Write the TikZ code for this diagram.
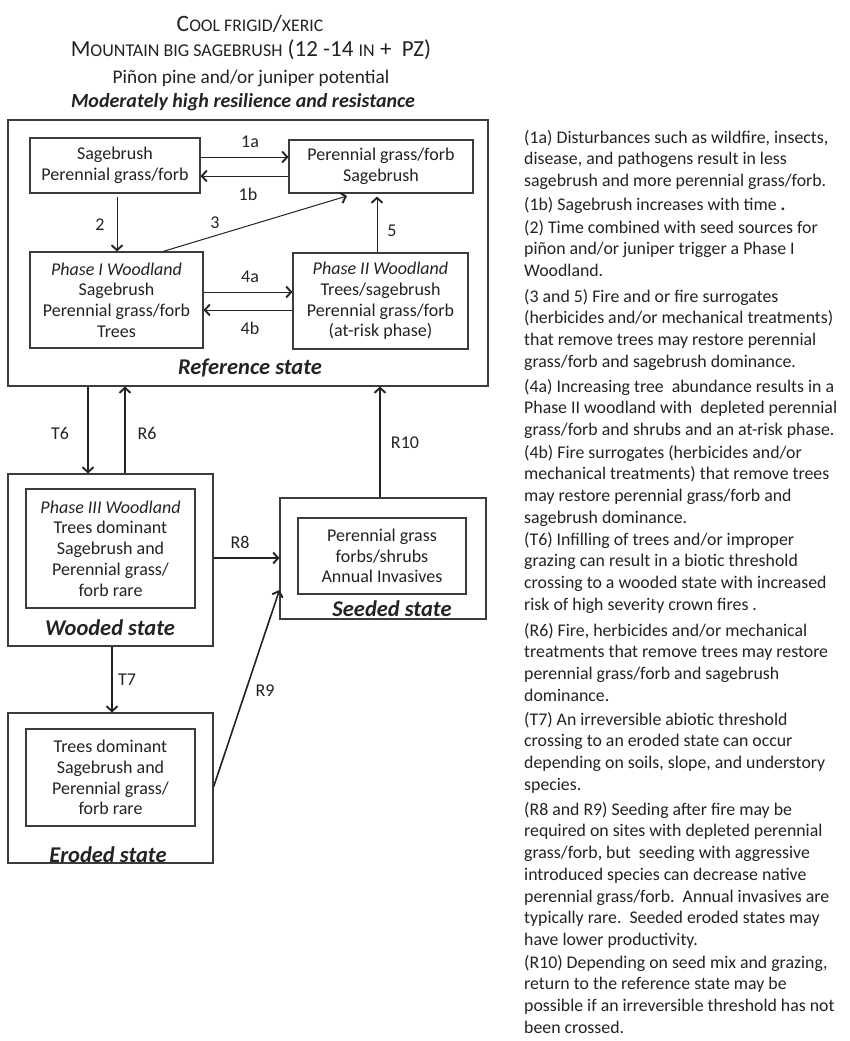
\documentclass[tikz,border=0pt]{standalone}
\usepackage{fontspec}
\setmainfont{Carlito}
\usetikzlibrary{arrows.meta}
\definecolor{ink}{RGB}{35,35,35}
\definecolor{edge}{RGB}{60,60,60}
\newcommand{\scsA}[1]{{\fontsize{17.7}{17.7}\selectfont #1}}
\newcommand{\scsB}[1]{{\fontsize{18}{18}\selectfont #1}}
\begin{document}
\begin{tikzpicture}[x=1pt,y=-1pt,
  box/.style={draw=edge, line width=1.1pt, inner sep=0pt, align=center, text=ink, font=\fontsize{18}{20.7}\selectfont},
  lbl/.style={text=ink, font=\fontsize{18}{20}\selectfont, inner sep=0pt},
  statelbl/.style={text=ink, font=\fontsize{22.5}{24}\selectfont\bfseries\itshape, inner sep=0pt},
  thinarr/.style={draw=ink, line width=1pt, -{Straight Barb[length=5pt,width=11pt,line width=1.9pt]}},
  thickarr/.style={draw=ink, line width=1.6pt, -{Straight Barb[length=5pt,width=11pt,line width=1.9pt]}},
  para/.style={anchor=north west, inner sep=0pt, align=left, text=ink, font=\fontsize{17.8}{21.7}\selectfont},
  ttl/.style={anchor=base, inner sep=0pt, text=ink},
]
\useasboundingbox (0,0) rectangle (850,1041);
\fill[white] (0,0) rectangle (850,1041);

% Title
\node[ttl, font=\fontsize{23.5}{23.5}\selectfont] (t1) at (250,32) {C\scsA{OOL FRIGID}/\scsA{XERIC}};
\node[ttl, font=\fontsize{23}{23}\selectfont] (t2) at (251,57) {M\scsB{OUNTAIN BIG SAGEBRUSH} (12 -14 \scsB{IN} + \ PZ)};
\node[ttl, font=\fontsize{19.3}{19.3}\selectfont] (t3) at (251,83) {Piñon pine and/or juniper potential};
\node[ttl, font=\fontsize{20}{20}\selectfont\bfseries\itshape] (t4) at (243,107) {Moderately high resilience and resistance};

% Reference state
\node[box, minimum width=480pt, minimum height=266pt] (Ref) at (248,253) {};
\node[box, minimum width=170pt, minimum height=55pt] (A) at (115,165.5) {Sagebrush\\Perennial grass/forb};
\node[box, minimum width=184pt, minimum height=53pt] (B) at (381,166.5) {Perennial grass/forb\\Sagebrush};
\node[box, minimum width=173pt, minimum height=96pt] (C) at (116.5,300) {\textit{Phase I Woodland}\\Sagebrush\\Perennial grass/forb\\Trees};
\node[box, minimum width=175pt, minimum height=96pt] (D) at (380.5,301) {\textit{Phase II Woodland}\\Trees/sagebrush\\Perennial grass/forb\\(at-risk phase)};
\node[statelbl] (Refl) at (250,368) {Reference state};

\draw[thinarr] (A.east |- 0,157) -- (B.west |- 0,157);
\draw[thinarr] (B.west |- 0,176) -- (A.east |- 0,176);
\draw[thinarr] ([yshift=-3pt]A.south -| 117,0) -- (C.north -| 117,0);
\draw[thinarr] (C.north -| 163,0) -- (347,196);
\draw[thinarr] (D.north -| 377,0) -- ([yshift=-3pt]B.south -| 377,0);
\draw[thinarr] (C.east |- 0,292) -- (D.west |- 0,292);
\draw[thinarr] (D.west |- 0,310) -- (C.east |- 0,310);
\node[lbl] (l1a) at (250,142) {1a};
\node[lbl] (l1b) at (248,194) {1b};
\node[lbl] (l2) at (100,225) {2};
\node[lbl] (l3) at (215,223) {3};
\node[lbl] (l5) at (392,231) {5};
\node[lbl] (l4a) at (250,277) {4a};
\node[lbl] (l4b) at (250,328) {4b};

% Wooded state
\node[box, minimum width=205pt, minimum height=172pt] (Wout) at (110.5,560) {};
\node[box, minimum width=169pt, minimum height=119pt] (Win) at (110.5,548.5) {\textit{Phase III Woodland}\\Trees dominant\\Sagebrush and\\Perennial grass/\\forb rare};
\node[statelbl] (Wl) at (110,628) {Wooded state};

% Seeded state
\node[box, minimum width=206pt, minimum height=121pt] (Sout) at (383,558.5) {};
\node[box, minimum width=168pt, minimum height=76pt] (Sin) at (382,556) {Perennial grass\\forbs/shrubs\\Annual Invasives};
\node[statelbl] (Sl) at (392,609) {Seeded state};

% Eroded state
\node[box, minimum width=205pt, minimum height=150pt] (Eout) at (110.5,788) {};
\node[box, minimum width=169pt, minimum height=97pt] (Ein) at (110.5,777.5) {Trees dominant\\Sagebrush and\\Perennial grass/\\forb rare};
\node[statelbl, anchor=base] (El) at (108,862) {Eroded state};

% Between-state arrows
\draw[thickarr] (Ref.south -| 88,0) -- (Wout.north -| 88,0);
\draw[thickarr] (Wout.north -| 125,0) -- (Ref.south -| 125,0);
\draw[thickarr] (Sout.north -| 380,0) -- (Ref.south -| 380,0);
\draw[thickarr] (Wout.east |- 0,558) -- (Sout.west |- 0,558);
\draw[thickarr] (Eout.east |- 0,787) -- (Sout.west |- 0,590);
\draw[thickarr] (Wout.south -| 112,0) -- (Eout.north -| 112,0);
\node[lbl] (lT6) at (60,433) {T6};
\node[lbl] (lR6) at (147,433) {R6};
\node[lbl] (lR10) at (405,443) {R10};
\node[lbl] (lR8) at (240,542) {R8};
\node[lbl] (lR9) at (265,691) {R9};
\node[lbl] (lT7) at (127,680) {T7};

% Legend text
\node[para] (p1a) at (524,127.8) {\strut(1a) Disturbances such as wildfire, insects,\\disease, and pathogens result in less\\sagebrush and more perennial grass/forb.};
\node[para] (p1b) at (524,194.8) {\strut(1b) Sagebrush increases with time \textbf{.}};
\node[para] (p2) at (524,217.8) {\strut(2) Time combined with seed sources for\\piñon and/or juniper trigger a Phase I\\Woodland.};
\node[para] (p35) at (524,286.8) {\strut(3 and 5) Fire and or fire surrogates\\(herbicides and/or mechanical treatments)\\that remove trees may restore perennial\\grass/forb and sagebrush dominance.};
\node[para] (p4a) at (524,376.8) {\strut(4a) Increasing tree\ \ abundance results in a\\Phase II woodland with\ \ depleted perennial\\grass/forb and shrubs and an at-risk phase.};
\node[para] (p4b) at (524,442.8) {\strut(4b) Fire surrogates (herbicides and/or\\mechanical treatments) that remove trees\\may restore perennial grass/forb and\\sagebrush dominance.};
\node[para] (pT6) at (524,529.8) {\strut(T6) Infilling of trees and/or improper\\grazing can result in a biotic threshold\\crossing to a wooded state with increased\\risk of high severity crown fires .};
\node[para] (pR6) at (524,620.8) {\strut(R6) Fire, herbicides and/or mechanical\\treatments that remove trees may restore\\perennial grass/forb and sagebrush\\dominance.};
\node[para] (pT7) at (524,709.8) {\strut(T7) An irreversible abiotic threshold\\crossing to an eroded state can occur\\depending on soils, slope, and understory\\species.};
\node[para] (pR8) at (524,799.8) {\strut(R8 and R9) Seeding after fire may be\\required on sites with depleted perennial\\grass/forb, but\ \ seeding with aggressive\\introduced species can decrease native\\perennial grass/forb.\ \ Annual invasives are\\typically rare.\ \ Seeded eroded states may\\have lower productivity.};
\node[para] (pR10) at (524,952.8) {\strut(R10) Depending on seed mix and grazing,\\return to the reference state may be\\possible if an irreversible threshold has not\\been crossed.};
\end{tikzpicture}
\end{document}
